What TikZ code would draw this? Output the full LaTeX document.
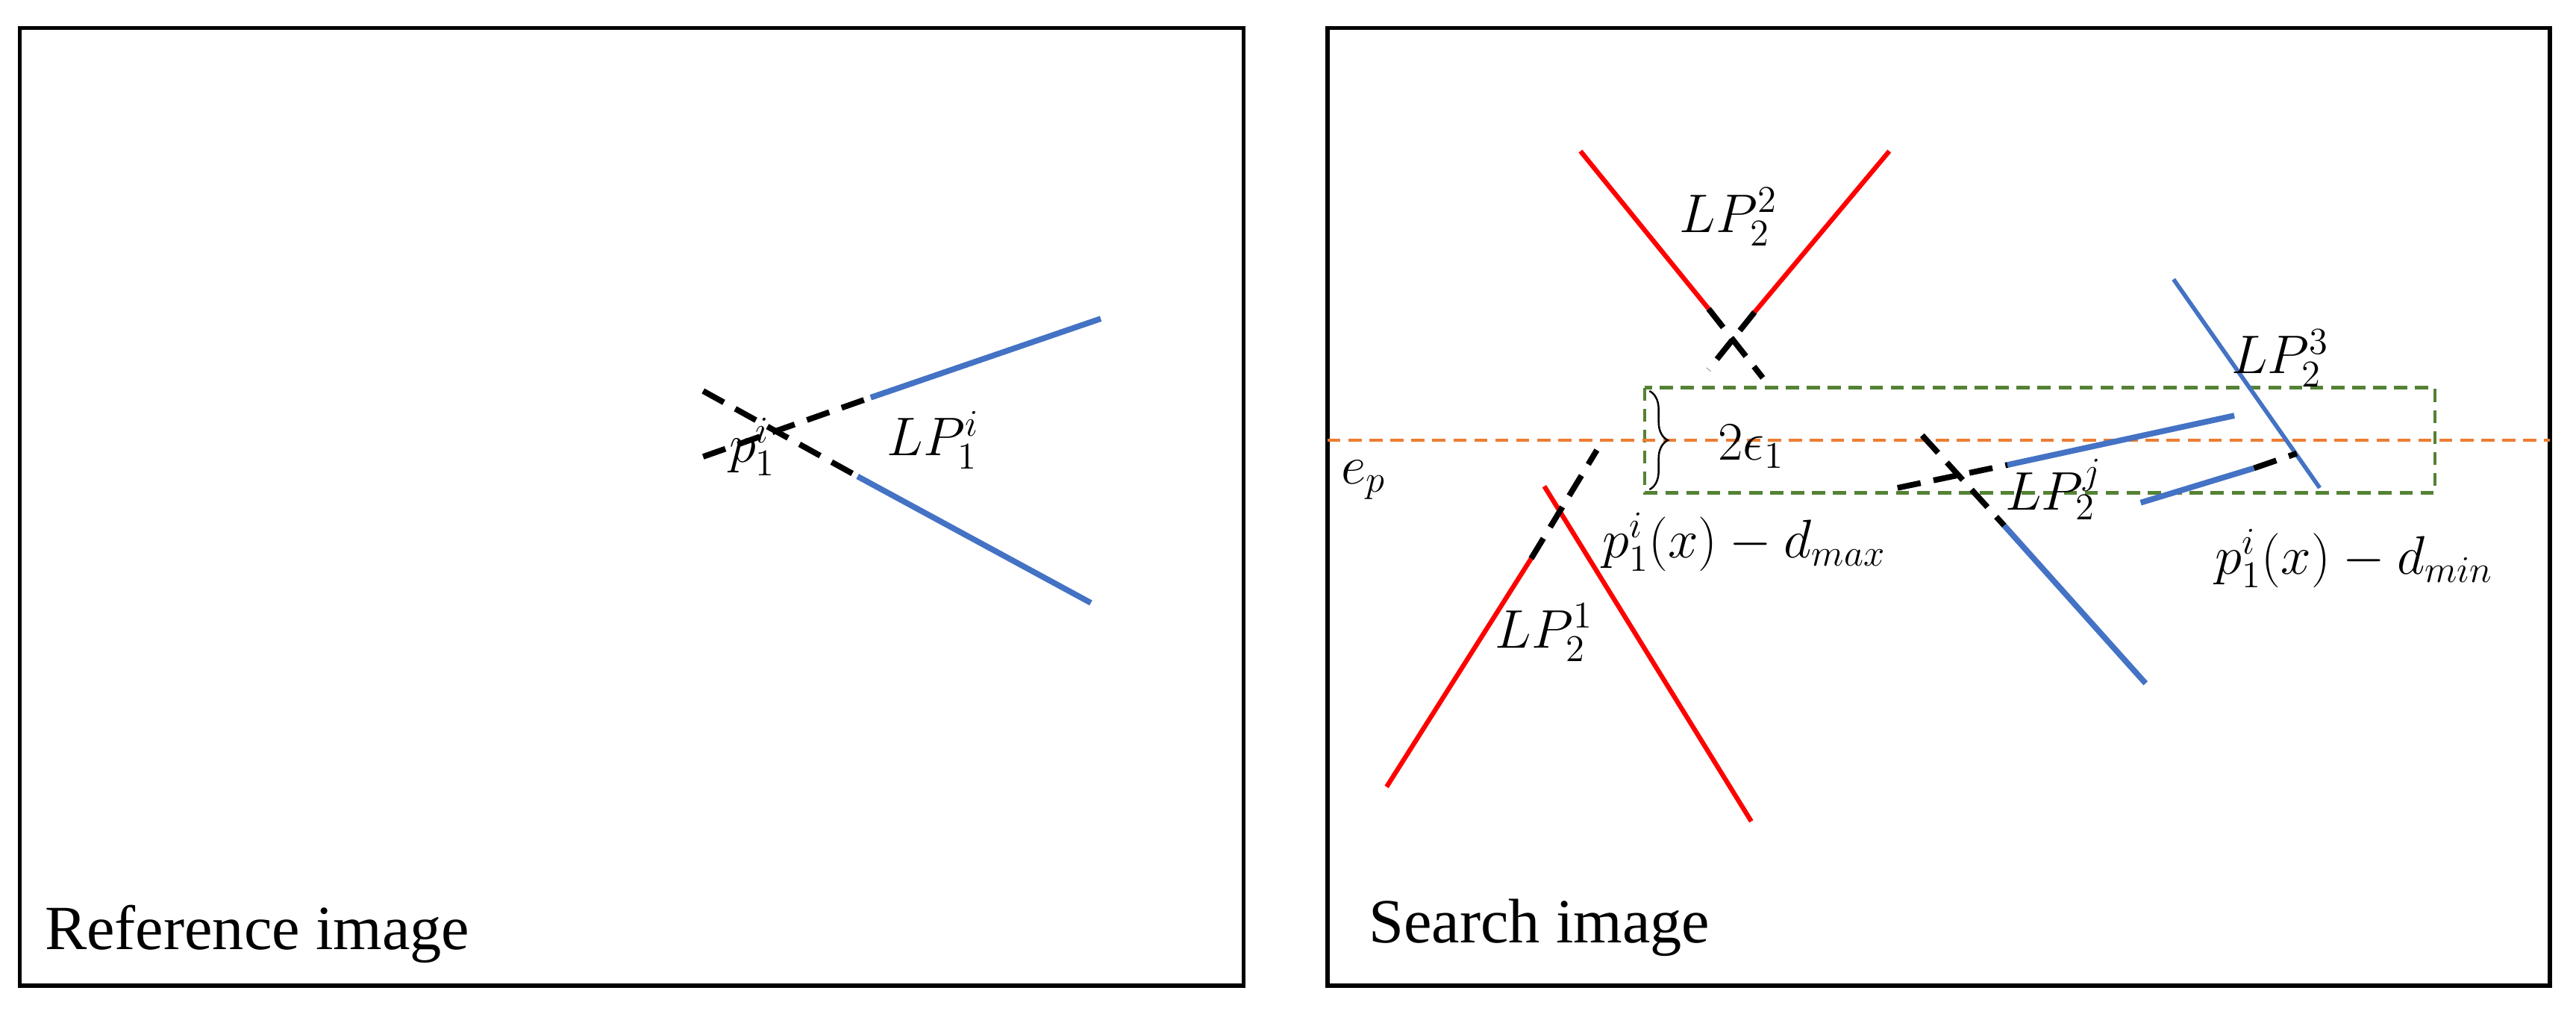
\documentclass[tikz,border=0pt]{standalone}
\usepackage{fontspec}
\setmainfont{Liberation Serif}
\usetikzlibrary{decorations.pathreplacing}
\definecolor{lblue}{RGB}{68,114,196}
\definecolor{lred}{RGB}{255,0,0}
\definecolor{lgreen}{RGB}{84,130,53}
\definecolor{lorange}{RGB}{237,125,49}
\tikzset{
 panel/.style={draw=black,line width=1.6pt},
 bl/.style={draw=lblue,line width=2.2pt},
 rl/.style={draw=lred,line width=1.8pt},
 dl/.style={draw=black,line width=2.2pt,dash pattern=on 9pt off 5pt},
 lbl/.style={inner sep=0pt,font=\fontsize{20}{24}\selectfont},
 caption/.style={inner sep=0pt,anchor=base west,font=\fontsize{24}{28}\selectfont}
}
\begin{document}
\begin{tikzpicture}[x=0.022015cm,y=-0.022015cm]
\useasboundingbox[fill=white] (0,0) rectangle (1568,618.7);
\draw[panel] (12,17) rectangle (757,600);
\draw[panel] (808,17) rectangle (1552,600);
% left
\coordinate (a1) at (428,278); \coordinate (a2) at (530,242); \coordinate (a3) at (670,194);
\coordinate (b1) at (428,238); \coordinate (b2) at (522,290); \coordinate (b3) at (664,367);
\draw[dl] (a1)--(a2); \draw[bl] (a2)--(a3);
\draw[dl] (b1)--(b2); \draw[bl] (b2)--(b3);
\node[lbl] (p1) at (458,272) {$p_1^i$};
\node[lbl] (lp1) at (568,268) {$LP_1^i$};
\node[caption] (rc) at (27,578) {Reference image};
% right
\draw[draw=lgreen,line width=1.2pt,dash pattern=on 5pt off 3pt] (1001,236) rectangle (1482,300);
\draw[draw=lorange,line width=1.4pt,dash pattern=on 5pt off 3pt] (808,268) -- (1552,268);
\draw[decorate,decoration={brace,amplitude=7pt},line width=0.7pt] (1004,238) -- (1004,298);
\node[lbl] (eps) at (1066,272) {$2\epsilon_1$};
\node[lbl] (ep) at (830,292) {$e_p$};
% LP2^2
\coordinate (c1) at (962,92); \coordinate (c2) at (1040,188); \coordinate (c3) at (1073,230);
\coordinate (d1) at (1150,92); \coordinate (d2) at (1068,190); \coordinate (d3) at (1040,225);
\draw[rl] (c1)--(c2); \draw[dl] (c2)--(c3);
\draw[rl] (d1)--(d2); \draw[dl] (d2)--(d3);
\node[lbl] (lp22) at (1052,132) {$LP_2^2$};
% LP2^1
\coordinate (e1) at (940,296); \coordinate (e2) at (1066,500);
\coordinate (f1) at (844,479); \coordinate (f2) at (932,340); \coordinate (f3) at (972,274);
\draw[rl] (e1)--(e2); \draw[rl] (f1)--(f2); \draw[dl] (f2)--(f3);
\node[lbl] (lp21) at (940,385) {$LP_2^1$};
\node[lbl,anchor=west] (dmax) at (975,330) {$p_1^i(x)-d_{max}$};
% LP2^j
\coordinate (g1) at (1155,297); \coordinate (g2) at (1222,283); \coordinate (g3) at (1360,253);
\coordinate (h1) at (1170,265); \coordinate (h2) at (1220,320); \coordinate (h3) at (1306,416);
\draw[dl] (g1)--(g2); \draw[bl] (g2)--(g3);
\draw[dl] (h1)--(h2); \draw[bl] (h2)--(h3);
\node[lbl] (lp2j) at (1250,298) {$LP_2^j$};
% LP2^3
\coordinate (k1) at (1323,170); \coordinate (k2) at (1412,297);
\coordinate (m1) at (1303,306); \coordinate (m2) at (1372,285); \coordinate (m3) at (1398,276);
\draw[draw=lblue,line width=1.6pt] (k1)--(k2);
\draw[bl] (m1)--(m2); \draw[dl] (m2)--(m3);
\node[lbl] (lp23) at (1388,218) {$LP_2^3$};
\node[lbl,anchor=west] (dmin) at (1348,340) {$p_1^i(x)-d_{min}$};
\node[caption] (sc) at (833,574) {Search image};
\end{tikzpicture}
\end{document}
